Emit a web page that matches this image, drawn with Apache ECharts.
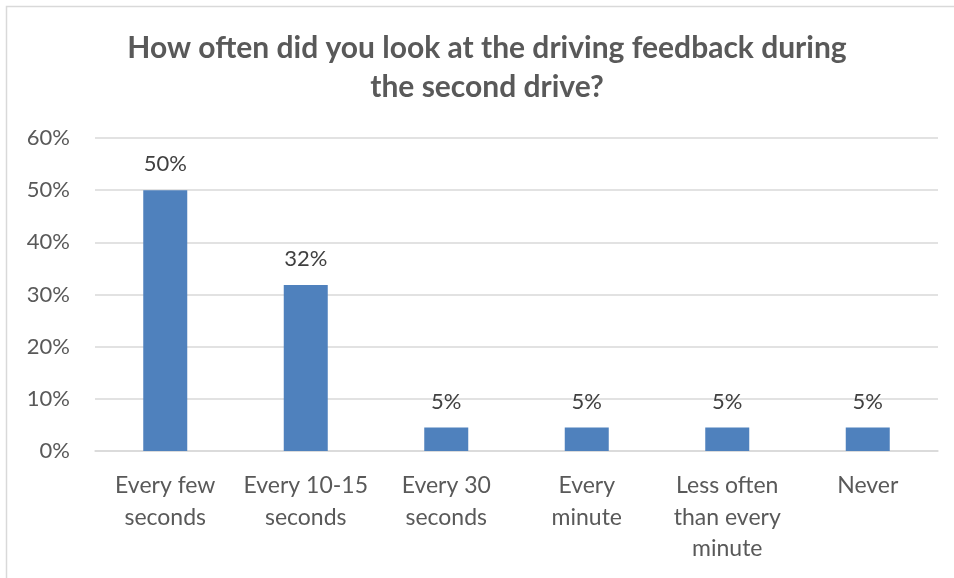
<!DOCTYPE html>
<html>
<head>
<meta charset="utf-8">
<script src="https://cdn.jsdelivr.net/npm/echarts@6/dist/echarts.min.js"></script>
<style>
  html, body { margin: 0; padding: 0; background: #fff; }
  #chart { width: 954px; height: 578px; }
</style>
</head>
<body>
<div id="chart"></div>
<script>
/* feedback glance frequency */
var categories = ['Every few\nseconds', 'Every 10-15\nseconds', 'Every 30\nseconds', 'Every\nminute', 'Less often\nthan every\nminute', 'Never'];
var shares = [50, 31.8, 4.5, 4.5, 4.5, 4.5];
var yTicks = [0, 10, 20, 30, 40, 50, 60];

var chart = echarts.init(document.getElementById('chart'));
var font = 'Lato, "Liberation Sans", sans-serif';

chart.setOption({
  animation: false,
  graphic: [{
    type: 'rect',
    shape: { x: 6.5, y: 6.5, width: 1000, height: 1000 },
    style: { fill: 'none', stroke: '#d9d9d9', lineWidth: 1.5 }
  }],
  title: {
    text: 'How often did you look at the driving feedback during\nthe second drive?',
    left: 482,
    top: 24,
    textAlign: 'center',
    textStyle: {
      fontFamily: font,
      fontSize: 30,
      fontWeight: 'bold',
      color: '#595959',
      lineHeight: 39
    }
  },
  grid: { left: 95, right: 16, top: 138, bottom: 127 },
  xAxis: {
    type: 'category',
    data: categories,
    axisLine: { show: true, lineStyle: { color: '#d9d9d9', width: 1.5 } },
    axisTick: { show: false },
    axisLabel: {
      fontFamily: font,
      fontSize: 23,
      color: '#595959',
      lineHeight: 31.5,
      margin: 19,
      interval: 0
    }
  },
  yAxis: {
    type: 'value',
    min: yTicks[0],
    max: yTicks[yTicks.length - 1],
    interval: 10,
    axisLine: { show: false },
    axisTick: { show: false },
    splitLine: { lineStyle: { color: '#d9d9d9', width: 1.5 } },
    axisLabel: {
      fontFamily: font,
      fontSize: 22,
      color: '#595959',
      margin: 25,
      formatter: function(v) { return v + '%'; }
    }
  },
  series: [{
    type: 'bar',
    data: shares,
    barWidth: 44,
    itemStyle: { color: '#4f81bd' },
    label: {
      show: true,
      position: 'top',
      distance: 15,
      fontFamily: font,
      fontSize: 22,
      color: '#404040',
      formatter: function(p) { return Math.round(p.value) + '%'; }
    }
  }]
});
</script>
</body>
</html>
